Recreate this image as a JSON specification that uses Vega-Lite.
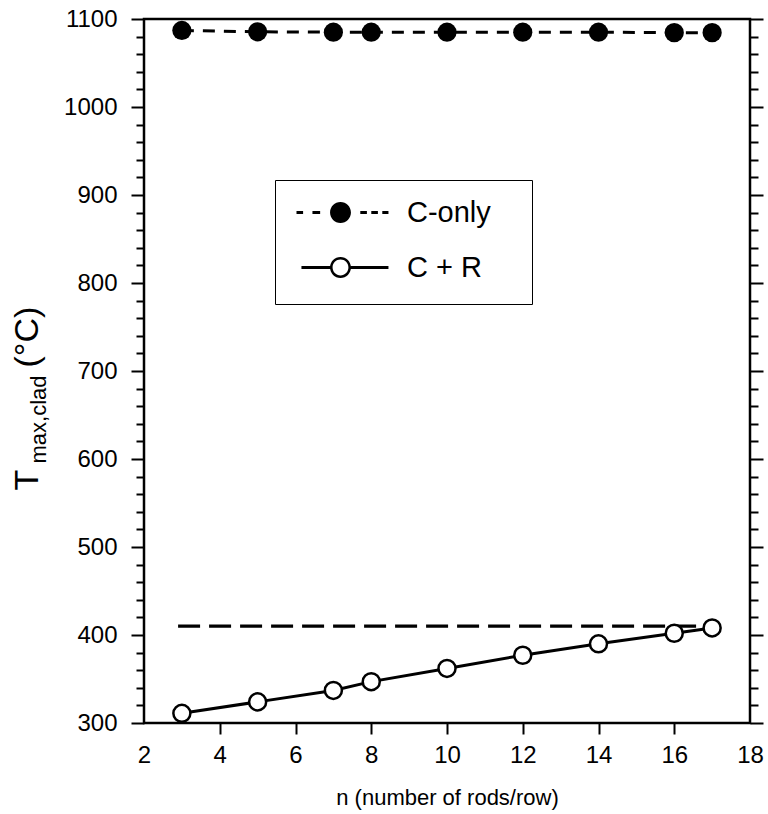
{
  "$schema": "https://vega.github.io/schema/vega-lite/v6.json",
  "autosize": {"type": "none"},
  "padding": {"left": 144, "top": 19, "right": 18, "bottom": 91},
  "width": 606,
  "height": 704,
  "config": {
    "font": "Liberation Sans",
    "view": {"stroke": "black", "strokeWidth": 2.5},
    "axis": {
      "grid": false,
      "domain": false,
      "tickColor": "black",
      "tickWidth": 2,
      "labelColor": "black",
      "titleColor": "black",
      "labelFont": "Liberation Sans",
      "titleFont": "Liberation Sans",
      "titleFontWeight": "normal",
      "labelFontSize": 24,
      "labelOverlap": false,
      "labelFlush": false
    }
  },
  "datasets": {
    "pts": [
      {"n": 3, "T": 1087, "series": "C-only"},
      {"n": 5, "T": 1085.5, "series": "C-only"},
      {"n": 7, "T": 1085, "series": "C-only"},
      {"n": 8, "T": 1085, "series": "C-only"},
      {"n": 10, "T": 1085, "series": "C-only"},
      {"n": 12, "T": 1085, "series": "C-only"},
      {"n": 14, "T": 1085, "series": "C-only"},
      {"n": 16, "T": 1084.5, "series": "C-only"},
      {"n": 17, "T": 1084.5, "series": "C-only"},
      {"n": 3, "T": 311, "series": "C + R"},
      {"n": 5, "T": 324, "series": "C + R"},
      {"n": 7, "T": 337, "series": "C + R"},
      {"n": 8, "T": 347, "series": "C + R"},
      {"n": 10, "T": 362, "series": "C + R"},
      {"n": 12, "T": 377, "series": "C + R"},
      {"n": 14, "T": 390, "series": "C + R"},
      {"n": 16, "T": 402, "series": "C + R"},
      {"n": 17, "T": 408, "series": "C + R"},
      {"n": 2.9, "T": 410, "series": "ref"},
      {"n": 17, "T": 410, "series": "ref"}
    ]
  },
  "data": {"name": "pts"},
  "layer": [
    {
      "transform": [{"filter": "datum.series === 'ref'"}],
      "mark": {"type": "line", "color": "black", "strokeWidth": 3.3, "strokeDash": [22, 9]},
      "encoding": {
        "x": {"field": "n", "type": "quantitative", "scale": {"domain": [2, 18], "nice": false, "zero": false}, "axis": null},
        "y": {"field": "T", "type": "quantitative", "scale": {"domain": [300, 1100], "nice": false, "zero": false}, "axis": null}
      }
    },
    {
      "transform": [{"filter": "datum.series === 'C-only'"}],
      "mark": {
        "type": "line",
        "color": "black",
        "strokeWidth": 3,
        "strokeDash": [12, 9],
        "point": {"filled": true, "size": 370, "color": "black", "opacity": 1}
      },
      "encoding": {
        "x": {
          "field": "n",
          "type": "quantitative",
          "scale": {"domain": [2, 18], "nice": false, "zero": false},
          "axis": {
            "orient": "bottom",
            "values": [2, 4, 6, 8, 10, 12, 14, 16, 18],
            "tickSize": 11,
            "labelPadding": 9,
            "tickOpacity": {"condition": {"test": "datum.value === 2 || datum.value === 18", "value": 0}, "value": 1},
            "title": "n (number of rods/row)",
            "titleFontSize": 22,
            "titleY": 81,
            "titleBaseline": "alphabetic"
          }
        },
        "y": {
          "field": "T",
          "type": "quantitative",
          "scale": {"domain": [300, 1100], "nice": false, "zero": false},
          "axis": {
            "orient": "left",
            "format": "d",
            "values": [300, 320, 340, 360, 380, 400, 420, 440, 460, 480, 500, 520, 540, 560, 580, 600, 620, 640, 660, 680, 700, 720, 740, 760, 780, 800, 820, 840, 860, 880, 900, 920, 940, 960, 980, 1000, 1020, 1040, 1060, 1080, 1100],
            "tickSize": {"condition": {"test": "datum.value % 100 === 0", "value": 13}, "value": 8},
            "labelExpr": "datum.value % 100 === 0 ? datum.label : ''",
            "labelPadding": 14,
            "title": "T",
            "titleFontSize": 34,
            "titleAngle": 270,
            "titleX": -107,
            "titleY": 471,
            "titleAlign": "left",
            "titleBaseline": "alphabetic"
          }
        }
      }
    },
    {
      "transform": [{"filter": "datum.series === 'C + R'"}],
      "mark": {
        "type": "line",
        "color": "black",
        "strokeWidth": 3,
        "point": {"filled": false, "fill": "white", "stroke": "black", "strokeWidth": 2.5, "size": 290, "opacity": 1}
      },
      "encoding": {
        "x": {
          "field": "n",
          "type": "quantitative",
          "scale": {"domain": [2, 18], "nice": false, "zero": false},
          "axis": {
            "orient": "top",
            "ticks": false,
            "labels": false,
            "domain": false,
            "title": "(°C)",
            "titleFontSize": 34,
            "titleAngle": 270,
            "titleX": -107,
            "titleY": 348,
            "titleAlign": "left",
            "titleBaseline": "alphabetic"
          }
        },
        "y": {
          "field": "T",
          "type": "quantitative",
          "scale": {"domain": [300, 1100], "nice": false, "zero": false},
          "axis": {
            "orient": "right",
            "values": [300, 320, 340, 360, 380, 400, 420, 440, 460, 480, 500, 520, 540, 560, 580, 600, 620, 640, 660, 680, 700, 720, 740, 760, 780, 800, 820, 840, 860, 880, 900, 920, 940, 960, 980, 1000, 1020, 1040, 1060, 1080, 1100],
            "tickSize": {"condition": {"test": "datum.value % 100 === 0", "value": 13}, "value": 8},
            "labels": false,
            "title": "max,clad",
            "titleFontSize": 22,
            "titleAngle": 270,
            "titleX": -705,
            "titleY": 444,
            "titleAlign": "left",
            "titleBaseline": "alphabetic"
          }
        }
      }
    },
    {
      "transform": [{"filter": "false"}],
      "mark": {"type": "point", "filled": true, "color": "black", "opacity": 1},
      "encoding": {
        "x": {"field": "n", "type": "quantitative", "axis": null},
        "y": {"field": "T", "type": "quantitative", "axis": null},
        "shape": {
          "field": "series",
          "type": "nominal",
          "scale": {
            "domain": ["C-only", "C + R"],
            "range": [
              "M -1 -0.14 H -0.4 V 0.14 H -1 Z M 0.45 -0.14 H 1.15 V 0.14 H 0.45 Z M 3.95 0 A 0.95 0.95 0 1 1 2.05 0 A 0.95 0.95 0 1 1 3.95 0 Z M 4.8 -0.14 H 5.4 V 0.14 H 4.8 Z M 5.8 -0.14 H 6.4 V 0.14 H 5.8 Z M 6.8 -0.14 H 7.36 V 0.14 H 6.8 Z M 18.7 -1.6 M 18.7 1.6",
              "M -0.55 -0.13 H 2.06 V 0.13 H -0.55 Z M 3.94 -0.13 H 7.36 V 0.13 H 3.94 Z M 3.95 0 A 0.95 0.95 0 1 1 2.05 0 A 0.95 0.95 0 1 1 3.95 0 Z M 3.72 0 A 0.72 0.72 0 1 0 2.28 0 A 0.72 0.72 0 1 0 3.72 0 Z M 18.7 -1.6 M 18.7 1.6"
            ]
          },
          "legend": {
            "orient": "none",
            "legendX": 131,
            "legendY": 161,
            "title": null,
            "padding": 18,
            "strokeColor": "black",
            "symbolSize": 484,
            "symbolStrokeWidth": 0,
            "symbolFillColor": "black",
            "symbolOpacity": 1,
            "labelFont": "Liberation Sans",
            "labelFontSize": 29,
            "labelColor": "black",
            "labelOffset": 85,
            "rowPadding": 18,
            "encode": {"legend": {"update": {"strokeWidth": {"value": 2.5}}}}
          }
        }
      }
    }
  ],
  "resolve": {"axis": {"x": "independent", "y": "independent"}}
}
